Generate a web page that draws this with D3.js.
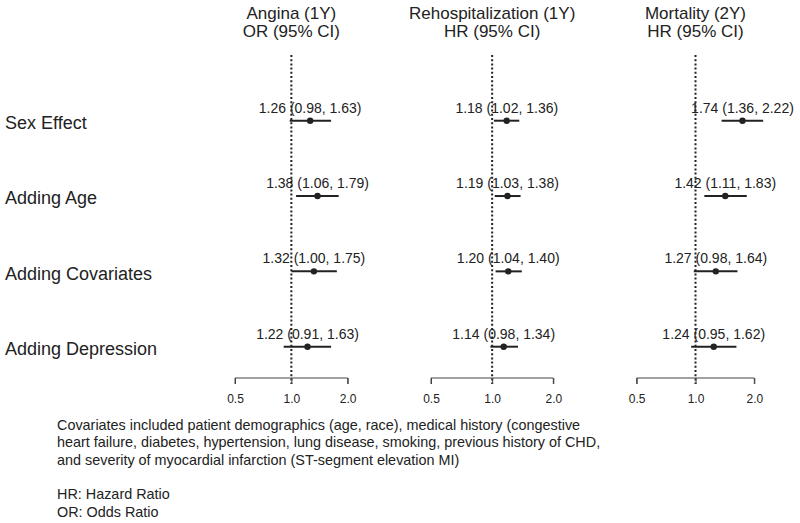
<!DOCTYPE html>
<html>
<head>
<meta charset="utf-8">
<script src="https://cdn.jsdelivr.net/npm/d3@7"></script>
<style>
  html, body { margin: 0; padding: 0; background: #fff; }
  svg { display: block; font-family: "Liberation Sans", Arial, sans-serif; }
</style>
</head>
<body>
<svg id="chart" width="800" height="523"></svg>
<script>
const rows = ["Sex Effect", "Adding Age", "Adding Covariates", "Adding Depression"];
const panelTitles = [["Angina (1Y)", "OR (95% CI)"], ["Rehospitalization (1Y)", "HR (95% CI)"], ["Mortality (2Y)", "HR (95% CI)"]];
const anginaEst = [1.26, 1.38, 1.32, 1.22];
const anginaLo  = [0.98, 1.06, 1.00, 0.91];
const anginaHi  = [1.63, 1.79, 1.75, 1.63];
const rehospEst = [1.18, 1.19, 1.20, 1.14];
const rehospLo  = [1.02, 1.03, 1.04, 0.98];
const rehospHi  = [1.36, 1.38, 1.40, 1.34];
const mortEst = [1.74, 1.42, 1.27, 1.24];
const mortLo  = [1.36, 1.11, 0.98, 0.95];
const mortHi  = [2.22, 1.83, 1.64, 1.62];
const tickValues = [0.5, 1.0, 2.0];
const footnote = [
  "Covariates included patient demographics (age, race), medical history (congestive",
  "heart failure, diabetes, hypertension, lung disease, smoking, previous history of CHD,",
  "and severity of myocardial infarction (ST-segment elevation MI)",
  "",
  "HR: Hazard Ratio",
  "OR: Odds Ratio"
];

const panels = [
  { title: panelTitles[0], est: anginaEst, lo: anginaLo, hi: anginaHi, range: [235, 347.7] },
  { title: panelTitles[1], est: rehospEst, lo: rehospLo, hi: rehospHi, range: [431, 553.3] },
  { title: panelTitles[2], est: mortEst, lo: mortLo, hi: mortHi, range: [636.7, 754.3] }
];

const svg = d3.select("#chart");
const y = d3.scalePoint().domain(rows).range([120.7, 346.7]);
const fmt = d3.format(".2f");
const textCol = "#222";
const lineCol = "#222";

// row labels
svg.append("g").selectAll("text").data(rows).join("text")
  .attr("x", 5).attr("y", d => y(d) + 8.3)
  .attr("font-size", 18).attr("fill", textCol)
  .text(d => d);

panels.forEach(p => {
  const x = d3.scaleLog().domain([0.5, 2]).range(p.range);
  const g = svg.append("g");
  const cx = x(1);

  // titles
  g.selectAll("text.title").data(p.title).join("text")
    .attr("class", "title")
    .attr("x", cx).attr("y", (d, i) => 18.5 + i * 18.5)
    .attr("text-anchor", "middle").attr("font-size", 17).attr("fill", textCol)
    .text(d => d);

  // reference line
  g.append("line")
    .attr("x1", cx).attr("x2", cx).attr("y1", 55).attr("y2", 384)
    .attr("stroke", lineCol).attr("stroke-width", 2)
    .attr("stroke-dasharray", "2,2.2");

  // axis
  const axis = d3.axisBottom(x).tickValues(tickValues).tickFormat(d3.format(".1f")).tickSize(6).tickPadding(10);
  const ag = g.append("g").attr("transform", "translate(0,378)").call(axis);
  ag.select(".domain").attr("stroke", "#444").attr("d", `M${p.range[0]},6V0H${p.range[1]}V6`);
  ag.selectAll(".tick line").attr("stroke", "#444");
  ag.selectAll(".tick text").attr("font-size", 12).attr("fill", textCol)
    .attr("font-family", "'Liberation Sans', Arial, sans-serif");

  const data = rows.map((r, i) => ({ r, est: p.est[i], lo: p.lo[i], hi: p.hi[i] }));

  // CI lines
  g.selectAll("line.ci").data(data).join("line")
    .attr("class", "ci")
    .attr("x1", d => x(d.lo)).attr("x2", d => x(d.hi))
    .attr("y1", d => y(d.r)).attr("y2", d => y(d.r))
    .attr("stroke", lineCol).attr("stroke-width", 2);

  // points
  g.selectAll("circle").data(data).join("circle")
    .attr("cx", d => x(d.est)).attr("cy", d => y(d.r)).attr("r", 3.2)
    .attr("fill", lineCol);

  // value labels
  g.selectAll("text.val").data(data).join("text")
    .attr("class", "val")
    .attr("x", d => x(d.est)).attr("y", d => y(d.r) - 8)
    .attr("text-anchor", "middle").attr("font-size", 14).attr("fill", textCol)
    .text(d => `${fmt(d.est)} (${fmt(d.lo)}, ${fmt(d.hi)})`);
});

// footnote
svg.append("g").selectAll("text").data(footnote).join("text")
  .attr("x", 57).attr("y", (d, i) => 430 + i * 17.3)
  .attr("font-size", 14.4).attr("fill", textCol)
  .text(d => d);
</script>
</body>
</html>
